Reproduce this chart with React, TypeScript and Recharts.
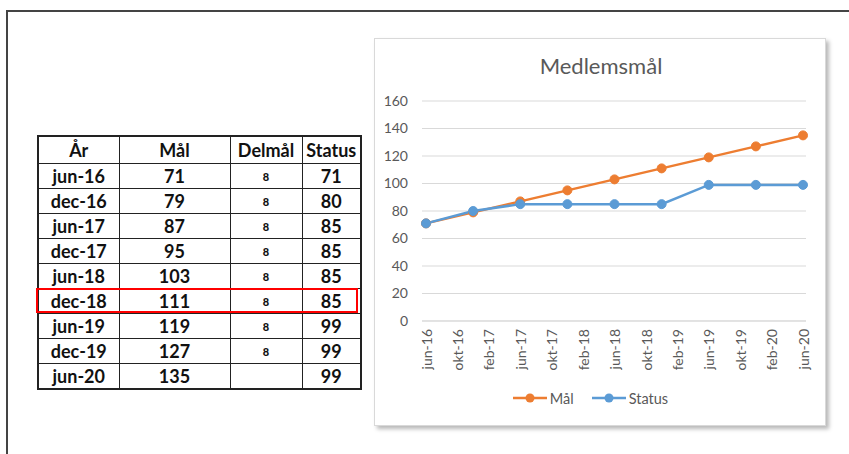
import { LineChart, Line, XAxis, YAxis, CartesianGrid, Legend } from "recharts";

const periods = ["jun-16", "dec-16", "jun-17", "dec-17", "jun-18", "dec-18", "jun-19", "dec-19", "jun-20"];
const malValues = [71, 79, 87, 95, 103, 111, 119, 127, 135];
const delmalValues: (number | null)[] = [8, 8, 8, 8, 8, 8, 8, 8, null];
const statusValues = [71, 80, 85, 85, 85, 85, 99, 99, 99];
const xTickLabels = [
  "jun-16", "okt-16", "feb-17", "jun-17", "okt-17", "feb-18", "jun-18",
  "okt-18", "feb-19", "jun-19", "okt-19", "feb-20", "jun-20",
];
const yTicks = [0, 20, 40, 60, 80, 100, 120, 140, 160];
const highlightRow = "dec-18";

const series = [
  { key: "mal", name: "Mål", color: "#ED7D31" },
  { key: "status", name: "Status", color: "#5B9BD5" },
];

// swedish month abbreviations, used to place points on a date axis
const monthNames = ["jan", "feb", "mar", "apr", "maj", "jun", "jul", "aug", "sep", "okt", "nov", "dec"];
const toMonth = (label: string) => {
  const [m, y] = label.split("-");
  return (2000 + Number(y)) * 12 + monthNames.indexOf(m);
};
const base = toMonth(periods[0]);

const chartData = periods.map((p, i) => ({
  t: toMonth(p) - base,
  mal: malValues[i],
  status: statusValues[i],
}));
const xTicks = xTickLabels.map((l) => toMonth(l) - base);
const labelByT: Record<number, string> = Object.fromEntries(xTickLabels.map((l) => [toMonth(l) - base, l]));

const FONT = "Lato, 'Open Sans', sans-serif";
const GREY = "#595959";

function DateTick({ x, y, payload }: any) {
  return (
    <text
      x={x}
      y={y}
      transform={`rotate(-90 ${x} ${y})`}
      textAnchor="end"
      dy="0.4em"
      fill={GREY}
      fontSize={14}
      fontFamily={FONT}
    >
      {labelByT[payload.value]}
    </text>
  );
}

function LegendContent() {
  return (
    <div
      style={{
        display: "flex",
        justifyContent: "center",
        alignItems: "center",
        height: 20,
        gap: 18,
        fontFamily: FONT,
        fontSize: 14.5,
        color: GREY,
      }}
    >
      {series.map((s) => (
        <span key={s.key} style={{ display: "flex", alignItems: "center" }}>
          <svg width={34} height={10}>
            <line x1={0} y1={5} x2={34} y2={5} stroke={s.color} strokeWidth={2.5} />
            <circle cx={17} cy={5} r={4.5} fill={s.color} />
          </svg>
          <span style={{ marginLeft: 3 }}>{s.name}</span>
        </span>
      ))}
    </div>
  );
}

const cell: React.CSSProperties = {
  border: "1px solid #222",
  textAlign: "center",
  padding: 0,
  height: 24,
};

export default function App() {
  const colWidths = [81, 111, 72, 59];
  return (
    <div
      style={{
        position: "fixed",
        left: 0,
        top: 0,
        width: 849,
        height: 454,
        background: "#fff",
        overflow: "hidden",
      }}
    >
      {/* frame of the screenshot */}
      <div style={{ position: "absolute", left: 6, top: 10, width: 2, height: 460, background: "#444" }} />
      <div style={{ position: "absolute", left: 6, top: 10, width: 860, height: 2, background: "#444" }} />

      <table
        style={{
          position: "absolute",
          left: 37,
          top: 135,
          borderCollapse: "collapse",
          tableLayout: "fixed",
          border: "2px solid #222",
          fontFamily: FONT,
          fontWeight: 700,
          fontSize: 18,
          color: "#111",
        }}
      >
        <colgroup>
          {colWidths.map((w, i) => (
            <col key={i} style={{ width: w }} />
          ))}
        </colgroup>
        <thead>
          <tr>
            {["År", "Mål", "Delmål", "Status"].map((h) => (
              <th key={h} style={{ ...cell, height: 26 }}>
                {h}
              </th>
            ))}
          </tr>
        </thead>
        <tbody>
          {periods.map((p, i) => (
            <tr key={p}>
              <td style={cell}>{p}</td>
              <td style={cell}>{malValues[i]}</td>
              <td style={{ ...cell, fontSize: 11, fontWeight: 900 }}>{delmalValues[i] ?? ""}</td>
              <td style={cell}>{statusValues[i]}</td>
            </tr>
          ))}
        </tbody>
      </table>
      <div
        style={{
          position: "absolute",
          left: 36,
          top: 162 + 25 * periods.indexOf(highlightRow) + 1,
          width: 322,
          height: 25,
          boxSizing: "border-box",
          border: "2.5px solid #FF0000",
        }}
      />

      {/* chart box */}
      <div
        style={{
          position: "absolute",
          left: 374,
          top: 38,
          width: 452,
          height: 388,
          boxSizing: "border-box",
          border: "1px solid #d9d9d9",
          boxShadow: "3px 3px 4px rgba(0,0,0,0.28)",
          background: "#fff",
        }}
      >
        <div
          style={{
            position: "absolute",
            left: 0,
            top: 13,
            width: 452,
            textAlign: "center",
            fontFamily: FONT,
            fontSize: 22,
            color: GREY,
          }}
        >
          Medlemsmål
        </div>
        <LineChart
          width={450}
          height={386}
          data={chartData}
          margin={{ top: 62, right: 19, left: 0, bottom: 17 }}
        >
          <CartesianGrid vertical={false} stroke="#d9d9d9" />
          <YAxis
            domain={[0, 160]}
            ticks={yTicks}
            width={47}
            axisLine={false}
            tickLine={false}
            tickMargin={8}
            tick={{ fill: GREY, fontSize: 14, fontFamily: FONT }}
            interval={0}
          />
          <XAxis
            dataKey="t"
            type="number"
            domain={[0, 48]}
            ticks={xTicks}
            interval={0}
            height={67}
            padding={{ left: 4, right: 3 }}
            axisLine={{ stroke: "#d9d9d9" }}
            tickLine={false}
            tick={<DateTick />}
          />
          <Legend verticalAlign="bottom" content={<LegendContent />} />
          {series.map((s) => (
            <Line
              key={s.key}
              dataKey={s.key}
              name={s.name}
              stroke={s.color}
              strokeWidth={2.5}
              dot={{ r: 4.5, fill: s.color, stroke: s.color, strokeWidth: 1 }}
              isAnimationActive={false}
            />
          ))}
        </LineChart>
      </div>
    </div>
  );
}
